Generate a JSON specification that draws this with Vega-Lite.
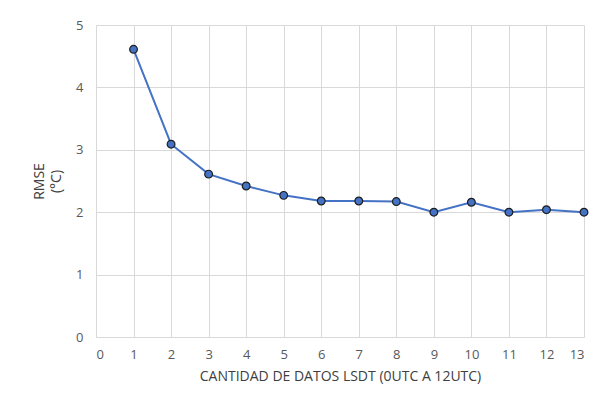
{
  "$schema": "https://vega.github.io/schema/vega-lite/v6.json",
  "width": 488,
  "height": 312,
  "autosize": {"type": "none"},
  "padding": {"left": 96, "top": 25, "right": 19, "bottom": 68},
  "background": "white",
  "config": {
    "view": {"stroke": null},
    "font": "Open Sans",
    "axis": {
      "labelFont": "Open Sans",
      "titleFont": "Open Sans",
      "labelColor": "#595959",
      "titleColor": "#404040",
      "labelFontSize": 13,
      "titleFontSize": 14,
      "titleFontWeight": "normal",
      "gridColor": "#d9d9d9",
      "gridWidth": 1,
      "domainColor": "#d9d9d9",
      "ticks": false
    }
  },
  "data": {
    "values": [
      {"n": 1, "rmse": 4.61},
      {"n": 2, "rmse": 3.09},
      {"n": 3, "rmse": 2.61},
      {"n": 4, "rmse": 2.42},
      {"n": 5, "rmse": 2.27},
      {"n": 6, "rmse": 2.18},
      {"n": 7, "rmse": 2.18},
      {"n": 8, "rmse": 2.17},
      {"n": 9, "rmse": 2.0},
      {"n": 10, "rmse": 2.16},
      {"n": 11, "rmse": 2.0},
      {"n": 12, "rmse": 2.04},
      {"n": 13, "rmse": 2.0}
    ]
  },
  "encoding": {
    "x": {
      "field": "n",
      "type": "quantitative",
      "scale": {"domain": [0, 13], "nice": false, "zero": true},
      "axis": {
        "values": [0,1,2,3,4,5,6,7,8,9,10,11,12,13],
        "labelPadding": 11,
        "title": "CANTIDAD DE DATOS LSDT (0UTC A 12UTC)",
        "titlePadding": 8,
        "domain": true
      }
    },
    "y": {
      "field": "rmse",
      "type": "quantitative",
      "scale": {"domain": [0, 5], "nice": false},
      "axis": {
        "values": [0,1,2,3,4,5],
        "labelPadding": 13,
        "domain": false,
        "title": ["RMSE", "(°C)"],
        "titleAngle": -90,
        "titleX": -57,
        "titleY": 156,
        "titleAlign": "center",
        "titleBaseline": "middle",
        "titleLineHeight": 17
      }
    }
  },
  "layer": [
    {"mark": {"type": "line", "color": "#4472C4", "strokeWidth": 2}},
    {"mark": {"type": "point", "filled": true, "fill": "#4472C4", "stroke": "#1f1f1f", "strokeWidth": 1.2, "size": 60, "opacity": 1}}
  ]
}
